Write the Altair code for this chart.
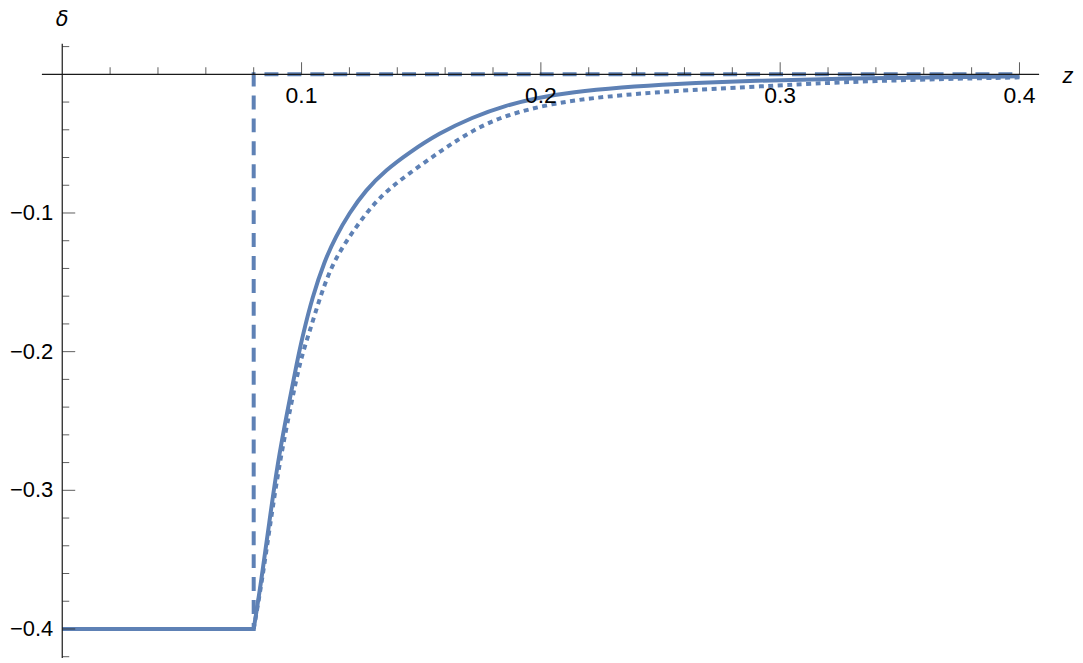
import altair as alt
import pandas as pd

BLUE = "#5E81B5"
INK = "#1a1a1a"
FONT = "Liberation Sans"

# ---- series ----
flat_z = [0.0, 0.08]
flat_d = [-0.4, -0.4]

solid_z = [0.08, 0.0831, 0.0865, 0.0900, 0.0942, 0.0983, 0.1004, 0.1046, 0.1095,
           0.1143, 0.1199, 0.1268, 0.1352, 0.1449, 0.1574, 0.1713, 0.1852, 0.1990,
           0.2129, 0.2338, 0.2546, 0.2893, 0.3300, 0.3700, 0.4000]
solid_d = [-0.4, -0.3664, -0.3232, -0.2801, -0.2417, -0.2058, -0.1890, -0.1602, -0.1350,
           -0.1170, -0.1002, -0.0835, -0.0691, -0.0565, -0.0425, -0.0310, -0.0224, -0.0168,
           -0.0129, -0.0094, -0.0070, -0.0045, -0.0030, -0.0020, -0.0014]

dotted_z = [0.08, 0.0834, 0.0870, 0.0908, 0.0952, 0.0995, 0.1032, 0.1080, 0.1135,
            0.1227, 0.1324, 0.1449, 0.1588, 0.1713, 0.1852, 0.2060, 0.2268, 0.2546,
            0.2893, 0.3380, 0.4000]
dotted_d = [-0.4, -0.3664, -0.3232, -0.2801, -0.2417, -0.2058, -0.1866, -0.1590, -0.1340,
            -0.1099, -0.0883, -0.0714, -0.0545, -0.0405, -0.0293, -0.0205, -0.0160, -0.0120,
            -0.0089, -0.0045, -0.0022]

dashed_z = [0.0, 0.08, 0.08, 0.4]
dashed_d = [-0.4, -0.4, 0.0, 0.0]

# ---- axes ----
x_domain = [-0.0085, 0.4082]
y_domain = [-0.421, 0.022]
x_major = [0.1, 0.2, 0.3, 0.4]
x_major_labels = ["0.1", "0.2", "0.3", "0.4"]
x_minor = [0.02, 0.04, 0.06, 0.08, 0.12, 0.14, 0.16, 0.18, 0.22, 0.24, 0.26, 0.28,
           0.32, 0.34, 0.36, 0.38]
y_major = [-0.1, -0.2, -0.3, -0.4]
y_major_labels = ["\u22120.1", "\u22120.2", "\u22120.3", "\u22120.4"]
y_minor = [0.02, -0.02, -0.04, -0.06, -0.08, -0.12, -0.14, -0.16, -0.18, -0.22, -0.24,
           -0.26, -0.28, -0.32, -0.34, -0.36, -0.38, -0.42]

xs = alt.Scale(domain=x_domain, nice=False, zero=False)
ys = alt.Scale(domain=y_domain, nice=False, zero=False)


def series(zv, dv):
    return pd.DataFrame({"z": zv, "d": dv, "i": list(range(len(zv)))})


def line(df, dash=None, interp="linear"):
    kw = dict(color=BLUE, strokeWidth=4, clip=False, interpolate=interp)
    if dash:
        kw["strokeDash"] = dash
    return alt.Chart(df).mark_line(**kw).encode(
        x=alt.X("z:Q", scale=xs, axis=None),
        y=alt.Y("d:Q", scale=ys, axis=None),
        order=alt.Order("i:Q"),
    )


dashed = line(series(dashed_z, dashed_d), [14, 9])
dotted_flat = line(series(flat_z, flat_d), [5, 4.5])
dotted = line(series(dotted_z, dotted_d), [5, 4.5], "basis")
solid_flat = line(series(flat_z, flat_d))
solid = line(series(solid_z, solid_d), None, "basis")

xaxis = alt.Chart(pd.DataFrame({"a": [x_domain[0]], "b": [x_domain[1]], "d": [0.0]})).mark_rule(
    color=INK, strokeWidth=1.2).encode(
    x=alt.X("a:Q", scale=xs, axis=None), x2="b:Q", y=alt.Y("d:Q", scale=ys, axis=None))
yaxis = alt.Chart(pd.DataFrame({"z": [0.0], "a": [y_domain[0]], "b": [y_domain[1]]})).mark_rule(
    color=INK, strokeWidth=1.2).encode(
    x=alt.X("z:Q", scale=xs, axis=None), y=alt.Y("a:Q", scale=ys, axis=None), y2="b:Q")

xmaj = pd.DataFrame({"z": x_major, "d": [0.0] * len(x_major), "t": x_major_labels})
xmin = pd.DataFrame({"z": x_minor, "d": [0.0] * len(x_minor)})
ymaj = pd.DataFrame({"z": [0.0] * len(y_major), "d": y_major, "t": y_major_labels})
ymin = pd.DataFrame({"z": [0.0] * len(y_minor), "d": y_minor})

enc = dict(x=alt.X("z:Q", scale=xs, axis=None), y=alt.Y("d:Q", scale=ys, axis=None))

xmaj_ticks = alt.Chart(xmaj).mark_tick(orient="vertical", size=12, thickness=1, yOffset=-6,
                                       color=INK).encode(**enc)
xmin_ticks = alt.Chart(xmin).mark_tick(orient="vertical", size=7, thickness=1, yOffset=-3.5,
                                       color=INK).encode(**enc)
ymaj_ticks = alt.Chart(ymaj).mark_tick(orient="horizontal", size=13, thickness=1, xOffset=6.5,
                                       color=INK).encode(**enc)
ymin_ticks = alt.Chart(ymin).mark_tick(orient="horizontal", size=7, thickness=1, xOffset=3.5,
                                       color=INK).encode(**enc)

xlabels = alt.Chart(xmaj).mark_text(font=FONT, fontSize=23, align="center", baseline="middle",
                                    dy=22, color="black").encode(text="t:N", **enc)
ylabels = alt.Chart(ymaj).mark_text(font=FONT, fontSize=22, align="right", baseline="middle",
                                    dx=-9, color="black").encode(text="t:N", **enc)

delta_lbl = alt.Chart(pd.DataFrame({"z": [0.0], "d": [y_domain[1]], "t": ["\u03b4"]})).mark_text(
    font="DejaVu Sans", fontSize=21, fontStyle="italic", align="center", baseline="middle",
    dy=-24, color="black").encode(text="t:N", **enc)
z_lbl = alt.Chart(pd.DataFrame({"z": [x_domain[1]], "d": [0.0], "t": ["z"]})).mark_text(
    font=FONT, fontSize=22, fontStyle="italic", align="center", baseline="middle", dx=29, dy=2,
    color="black").encode(text="t:N", **enc)

chart = alt.layer(
    dashed, dotted_flat, dotted, solid_flat, solid,
    xaxis, yaxis, xmaj_ticks, xmin_ticks, ymaj_ticks, ymin_ticks,
    xlabels, ylabels, delta_lbl, z_lbl,
).properties(
    width=1000, height=616,
    autosize=alt.AutoSizeParams(type="none"),
    padding={"left": 34, "top": 35, "right": 36, "bottom": 0},
).configure_view(stroke=None)

chart.save("out.html", embed_options={"renderer": "svg", "actions": False})
